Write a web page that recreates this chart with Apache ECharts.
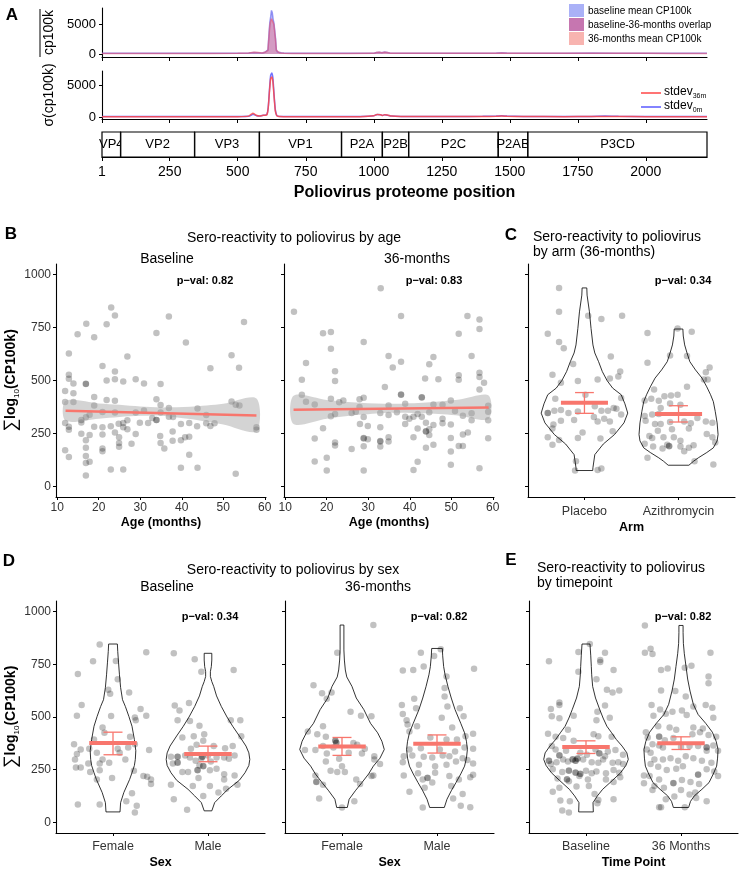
<!DOCTYPE html>
<html>
<head>
<meta charset="utf-8">
<script src="https://cdn.jsdelivr.net/npm/echarts@6/dist/echarts.min.js"></script>
<style>
  html, body { margin: 0; background: #fff; }
  #chart { width: 740px; height: 870px; }
</style>
</head>
<body>
<div id="chart"></div>
<script>
const FONT = '"Liberation Sans", Arial, sans-serif';
const FONT_A = '"Liberation Sans Narrow", "Liberation Sans", Arial, sans-serif';
const SALMON = '#F8766D';

// ---- panel A : proteome profile ----
const ticksA = [1, 250, 500, 750, 1000, 1250, 1500, 1750, 2000];
const meanPos = [1,100,200,300,400,500,540,560,575,590,600,606,611,615,618,621,624,627,630,633,636,639,642,646,652,660,670,700,800,900,1000,1010,1020,1030,1040,1050,1060,1100,1200,1300,1400,1450,1470,1490,1600,1700,1800,1900,2000,2100,2225];
const meanBase = [120,120,120,120,120,130,160,250,220,170,300,400,700,3500,5300,6200,7300,6900,5800,5200,4900,2600,700,350,260,200,150,120,120,120,130,260,300,220,320,260,160,130,130,140,130,160,210,160,130,140,160,140,130,120,120];
const meanM36 = [100,100,100,100,100,110,180,300,240,160,280,350,600,3000,4800,5500,5900,5800,5300,4900,4600,2300,600,300,220,170,120,100,100,100,110,240,280,200,300,240,140,110,110,120,110,140,190,140,110,120,140,120,110,100,100];
const sdPos = [1,100,200,300,400,500,540,550,556,562,570,580,590,600,607,612,617,621,625,629,633,638,643,648,655,670,700,800,900,950,1000,1012,1025,1032,1040,1050,1065,1100,1200,1300,1400,1450,1470,1490,1550,1700,1800,1850,1900,2000,2100,2225];
const sd0m = [80,80,80,80,80,90,120,300,450,350,200,150,250,300,400,1500,4500,6500,6900,6200,3800,1200,300,150,100,90,80,80,80,90,200,400,350,250,350,300,150,100,100,100,120,150,200,150,100,90,110,150,120,90,80,80];
const sd36m = [60,60,60,60,60,70,150,450,600,450,250,170,250,300,350,1400,4200,6000,6250,5600,3500,1000,250,120,80,70,60,60,60,70,200,420,380,250,350,320,150,80,80,80,90,120,150,120,80,70,80,100,90,70,60,60];
const geneNames = ['VP4','VP2','VP3','VP1','P2A','P2B','P2C','P2AB','P3CD'];
const geneStart = [1,70,342,580,882,1032,1129,1458,1567];
const geneEnd = [69,341,579,881,1031,1128,1457,1566,2225];

// ---- panels B-E : sero-reactivity ----
const scoreTicks = [0, 250, 500, 750, 1000];
const ageTicks = [10, 20, 30, 40, 50, 60];

const pointsB1 = [[23,845],[23.9,807],[17,768],[21.9,766],[36.9,802],[14.9,718],[18.9,704],[33.9,724],[41,679],[55,776],
[12.8,627],[26.9,613],[52,619],[20.9,569],[23.9,542],[46.9,558],[53.8,560],[12.8,527],[12.8,508],[21.9,500],
[23.9,506],[25.9,495],[28.9,506],[30.9,486],[34.9,483],[13.9,486],[11.9,451],[16.9,484],[16.9,485],[13.9,440],
[18.9,422],[11.9,398],[13.9,398],[18.9,382],[21.9,408],[23.9,404],[33.9,412],[34.9,384],[36.9,370],[43.8,368],
[52,401],[53,385],[53.9,382],[30.9,358],[20.9,351],[23.9,349],[28.9,349],[34.9,349],[17.8,338],[16.9,326],
[15.8,313],[15.8,302],[32.9,323],[33.9,313],[33.9,314],[36.9,329],[37.9,328],[45.9,337],[11.9,299],[26.9,312],
[24.8,296],[25.9,299],[29.9,301],[31.9,299],[39.8,295],[41.8,299],[43.7,284],[45.9,298],[46.9,285],[47.9,298],
[12.8,282],[12.8,268],[18.9,282],[20.9,279],[22.9,284],[25.9,279],[26.9,270],[58,279],[58,268],[15.8,249],
[17.8,243],[20.9,245],[23.9,254],[24.9,232],[28.9,248],[34.8,238],[37.8,259],[37.8,215],[39.8,218],[40.8,232],
[41.8,235],[16.9,218],[16.9,182],[20.9,179],[20.9,166],[24.9,205],[24.9,187],[27.9,201],[34.9,205],[35.8,179],
[11.9,171],[12.8,139],[16.9,143],[16.9,111],[17.8,117],[41.8,149],[22.9,80],[25.9,80],[39.8,88],[43.8,88],
[16.9,52],[53,60]];
const pointsB2 = [[12.1,824],[33,936],[37.9,804],[53.9,804],[56.8,788],[56.8,743],[19.1,723],[21,729],[51.8,721],[28.9,682],
[21,650],[15,583],[34.9,616],[35.9,561],[37.9,588],[45.7,611],[44.7,577],[54.9,616],[22,544],[22,498],
[14,503],[51.8,525],[51.8,503],[56.8,536],[56.8,517],[57.9,489],[43.7,509],[46.9,506],[14,433],[15,400],
[17.1,387],[34,469],[37.9,433],[37.9,434],[42.9,420],[42.9,421],[56.8,458],[21,414],[23,397],[24,406],
[27.9,412],[28.9,418],[34.9,382],[38.9,390],[45.7,387],[47.9,386],[49.9,406],[27.9,375],[26,346],[22,342],
[21,331],[27,353],[28.9,328],[32.9,346],[34.9,337],[36.9,350],[38.9,329],[41.9,342],[42.9,329],[44.7,350],
[50.9,356],[52.8,334],[54.9,345],[58.9,381],[58.9,353],[39.9,320],[40.9,329],[47.9,320],[54.9,312],[58.9,312],
[28,295],[38.9,295],[45.7,290],[47.9,298],[49.9,292],[29.9,285],[41.9,273],[43.9,301],[19.1,274],[32.9,279],
[44.7,270],[40.9,232],[43.9,259],[43.9,260],[44.7,243],[49.9,229],[52.8,245],[54,254],[17.1,226],[28.9,226],
[28.9,228],[29.9,223],[32.9,212],[32.9,214],[34.9,232],[34.9,212],[22,207],[22,193],[26,177],[28.9,190],
[32.9,188],[43.9,182],[45.7,197],[51.8,191],[52.8,191],[58.9,227],[49.9,165],[17.1,118],[20,135],[20,75],
[28.9,75],[41.9,116],[40.9,77],[49.9,102],[56.8,86]];

// linear fits and 95% bands
const fitB1Age = [12, 58];
const fitB1 = [357, 335];
const bandB1Age = [12, 20, 25, 30, 35, 42, 50, 58];
const bandB1Lo = [310, 320, 328, 333, 334, 318, 292, 260];
const bandB1Hi = [404, 392, 385, 377, 373, 376, 390, 415];
const fitB2Age = [12, 59];
const fitB2 = [362, 373];
const bandB2Age = [12, 20, 28, 36, 44, 52, 59];
const bandB2Lo = [295, 320, 338, 348, 345, 334, 318];
const bandB2Hi = [428, 408, 395, 390, 396, 410, 429];

const catsC = ['Placebo', 'Azithromycin'];
const pointsC = [[0.73,937],[0.73,824],[0.61,721],[0.73,682],[0.78,652],[1.04,806],[1.18,790],[1.40,806],[1.28,613],[1.38,542],
[0.88,578],[0.66,527],[0.75,489],[0.93,498],[1.14,505],[1.27,509],[1.36,519],[0.69,414],[1.01,433],[1.39,417],
[0.61,346],[0.61,347],[0.68,357],[0.75,361],[0.83,346],[0.93,354],[1.10,328],[1.18,357],[1.25,357],[1.31,370],[1.34,367],
[1.39,339],[1.11,379],[0.67,292],[0.66,273],[0.75,310],[0.89,313],[1.14,307],[1.21,320],[1.27,307],[1.30,260],
[0.61,232],[0.66,197],[0.73,219],[0.98,254],[0.93,229],[1.17,226],[0.91,119],[0.90,75],[1.14,77],[1.18,85],
[1.67,724],[1.99,746],[2.14,730],[1.67,584],[1.91,618],[2.09,616],[2.33,561],[2.29,539],[2.27,505],[2.31,505],
[1.74,458],[2.09,470],[1.64,406],[1.71,414],[1.79,404],[1.85,426],[1.92,429],[1.99,433],[1.91,392],[2.02,386],
[1.81,370],[1.79,342],[1.72,339],[1.64,332],[1.65,310],[1.75,295],[1.81,295],[1.91,304],[2.06,307],[2.13,298],
[2.20,323],[2.29,307],[2.36,301],[2.11,273],[1.93,270],[1.78,263],[1.69,238],[1.72,229],[1.84,232],[1.95,232],
[2.02,216],[2.30,248],[2.36,232],[2.39,207],[1.64,201],[1.73,188],[1.88,197],[1.90,190],[1.90,191],[2.02,188],[2.11,182],
[2.16,194],[1.83,179],[2.06,166],[1.67,135],[2.17,119],[2.37,103]];
const violinPlacebo = [[75,0.088],[88,0.09],[150,0.11],[200,0.2],[245,0.32],[300,0.42],[346,0.46],[390,0.43],[433,0.39],[464,0.3],[500,0.24],[542,0.19],[589,0.15],[630,0.11],[668,0.09],[746,0.07],[824,0.053],[903,0.028],[937,0.025]];
const violinAzi = [[100,0.11],[119,0.16],[135,0.21],[160,0.3],[182,0.37],[215,0.41],[245,0.42],[300,0.41],[354,0.39],[400,0.37],[433,0.34],[470,0.3],[511,0.25],[550,0.18],[589,0.12],[630,0.09],[668,0.065],[710,0.05],[743,0.046]];
const meanC = [395, 342];
const loC = [345, 304];
const hiC = [443, 381];

const catsSex = ['Female', 'Male'];
const pointsD1 = [[0.86,844],[0.79,764],[1.03,766],[1.35,807],[0.63,704],[1.05,679],[0.95,629],[0.97,610],[1.17,616],[0.67,557],
[1.29,538],[0.62,506],[0.98,505],[1.23,498],[1.35,506],[1.24,484],[0.89,450],[0.91,425],[0.80,393],[1.18,406],
[0.59,371],[0.66,346],[0.62,324],[0.75,349],[0.83,330],[1.05,349],[1.07,330],[1.16,355],[1.23,371],[1.38,343],
[0.60,299],[0.61,261],[0.66,261],[0.74,280],[0.86,280],[0.96,283],[0.89,299],[1.13,299],[0.76,239],[0.86,248],
[1.22,245],[0.83,204],[0.99,211],[1.32,220],[1.36,217],[1.40,204],[1.40,182],[1.20,138],[0.63,85],[0.86,85],
[1.14,101],[1.25,79],[1.23,47],
[1.64,802],[1.86,774],[1.93,715],[2.27,723],[1.65,555],[1.70,531],[1.80,566],[1.68,484],[1.81,481],[1.91,459],
[2.24,484],[2.34,484],[2.35,409],[1.73,403],[1.85,409],[1.96,418],[1.95,387],[1.88,368],[2.06,362],[1.82,349],
[2.18,352],[2.26,362],[1.61,311],[1.68,311],[1.68,312],[1.68,283],[1.68,284],[1.76,318],[1.81,308],[1.87,292],[1.93,305],
[1.94,311],[1.94,312],[2.00,318],[2.03,289],[2.09,308],[2.17,308],[2.22,302],[2.28,318],[1.63,280],[1.73,239],[1.79,239],
[1.89,248],[1.89,249],[1.91,270],[1.95,267],[1.95,268],[2.02,248],[2.09,255],[2.17,229],[2.28,223],[1.90,211],[2.17,204],
[1.61,179],[1.84,173],[2.02,173],[2.31,179],[2.19,160],[2.11,142],[1.64,110],[1.95,126],[1.78,60]];
const violinD1F = [[50,0.074],[94,0.08],[142,0.114],[204,0.175],[236,0.2],[270,0.225],[299,0.235],[340,0.24],[393,0.225],[456,0.2],[503,0.167],[550,0.13],[582,0.1],[640,0.08],[700,0.068],[760,0.058],[810,0.05],[846,0.046]];
const violinD1M = [[55,0.04],[94,0.07],[126,0.14],[157,0.21],[200,0.33],[236,0.39],[270,0.43],[299,0.44],[330,0.43],[362,0.4],[410,0.33],[456,0.26],[500,0.2],[550,0.14],[600,0.09],[645,0.06],[668,0.04],[692,0.025],[715,0.025],[739,0.035],[770,0.04],[802,0.04]];
const meanD1 = [377, 325];
const loD1 = [321, 288];
const hiD1 = [428, 362];

const pointsD2 = [[1.33,936],[0.95,805],[0.70,651],[0.79,613],[0.89,616],[0.84,586],[1.09,525],[1.20,506],[1.31,503],[0.80,456],
[0.64,431],[0.74,418],[0.93,387],[0.93,388],[0.94,377],[0.94,378],[0.83,406],[1.12,377],[1.16,368],[1.24,349],[0.61,343],
[0.72,343],[0.80,362],[0.84,327],[0.91,355],[1.07,330],[1.21,327],[0.83,289],[0.97,302],[1.34,299],[1.34,314],
[1.40,277],[1.00,267],[0.88,245],[0.95,239],[1.03,239],[0.72,223],[1.31,220],[1.33,223],[1.15,204],[0.73,192],[0.73,193],
[0.80,179],[1.19,182],[0.76,113],[1.13,101],[1.00,71],
[1.64,720],[1.75,723],[1.86,739],[1.83,805],[1.97,789],[2.04,821],[2.39,729],[2.10,692],[1.76,586],[1.63,557],
[1.78,541],[2.08,597],[2.08,638],[2.11,550],[2.24,541],[1.64,514],[1.68,484],[2.05,497],[2.28,503],[1.69,465],
[1.71,431],[1.79,456],[2.16,450],[2.30,409],[2.38,421],[1.93,403],[2.10,393],[2.21,393],[1.71,346],[1.83,352],
[2.03,346],[2.29,355],[2.38,349],[1.65,314],[1.74,318],[1.86,311],[1.95,308],[2.06,318],[2.13,314],[2.19,336],
[2.27,305],[1.64,286],[1.81,274],[1.98,267],[2.10,274],[2.20,289],[2.32,296],[2.38,280],[1.65,223],[1.80,233],
[1.85,204],[1.90,211],[1.90,212],[1.98,236],[2.13,220],[2.23,204],[2.35,214],[2.38,226],[1.71,145],[1.87,164],
[1.95,189],[2.15,173],[2.27,135],[2.17,113],[1.85,71],[2.25,79],[2.35,72]];
const violinD2F = [[71,0.056],[110,0.075],[150,0.14],[189,0.21],[230,0.28],[267,0.33],[305,0.4],[346,0.445],[385,0.42],[425,0.375],[470,0.3],[535,0.23],[590,0.15],[645,0.105],[690,0.05],[723,0.035],[770,0.025],[818,0.02],[936,0.02]];
const violinD2M = [[71,0.077],[110,0.105],[150,0.15],[189,0.2],[230,0.25],[267,0.29],[305,0.31],[346,0.32],[385,0.31],[425,0.29],[470,0.25],[535,0.19],[590,0.15],[645,0.115],[700,0.085],[739,0.07],[790,0.06],[825,0.056]];
const meanD2 = [360, 373];
const loD2 = [318, 329];
const hiD2 = [403, 415];

const catsTime = ['Baseline', '36 Months'];
const pointsE = [[0.61,764],[0.92,808],[1.04,846],[1.20,805],[1.15,770],[1.15,761],[1.29,723],[0.92,715],[1.11,679],[1.35,626],
[1.28,616],[1.22,629],[0.72,569],[0.72,557],[0.63,538],[1.20,555],[0.87,506],[1.12,525],[1.25,497],[0.64,503],
[0.72,494],[1.11,484],[0.81,440],[0.60,421],[0.68,406],[0.76,400],[1.08,418],[1.13,409],[1.27,406],[0.87,387],
[0.64,362],[0.68,346],[0.79,340],[0.72,318],[0.72,319],[0.94,330],[1.01,321],[1.10,346],[1.14,327],[1.14,328],[1.20,314],
[1.23,336],[1.31,343],[1.39,321],[0.61,292],[0.61,293],[0.63,277],[0.69,286],[0.76,299],[0.81,289],[0.86,299],[0.86,300],
[0.89,292],[0.89,293],[0.91,302],[0.91,303],[0.97,299],[1.06,286],[1.13,283],[1.18,299],[1.28,283],[1.34,286],[1.39,277],
[0.65,252],[0.75,239],[0.82,245],[0.82,246],[0.89,236],[0.89,237],[0.94,230],[0.94,231],[1.00,245],[1.06,233],[1.11,242],
[1.21,233],[1.29,249],[1.35,236],[0.70,208],[0.80,204],[0.80,205],[0.82,195],[0.93,220],[1.02,204],[1.21,204],[1.36,214],
[0.72,164],[0.90,170],[1.03,173],[1.29,192],[0.65,145],[1.09,135],[1.13,107],[1.29,110],[0.73,104],[0.83,101],
[1.12,91],[0.75,57],[0.82,47],
[1.62,934],[1.62,805],[1.68,824],[1.70,799],[2.31,805],[1.79,723],[1.86,730],[2.04,733],[2.11,743],[2.29,692],
[2.29,660],[1.79,626],[1.94,623],[2.05,597],[1.69,557],[2.26,557],[2.33,544],[1.78,535],[1.84,516],[1.91,525],
[2.01,531],[2.13,550],[1.71,506],[2.06,509],[2.34,497],[1.76,456],[1.88,450],[1.95,440],[2.13,450],[2.23,446],
[1.63,428],[1.65,403],[2.20,428],[2.29,415],[2.37,406],[1.77,406],[1.77,407],[1.83,390],[1.92,400],[2.12,418],
[1.70,371],[1.77,365],[2.27,355],[2.27,356],[2.34,365],[2.39,340],[1.64,346],[1.68,330],[1.81,355],[2.00,358],
[2.09,362],[2.18,362],[2.27,340],[1.72,299],[1.81,299],[1.89,305],[1.97,292],[2.05,314],[2.13,305],[2.22,292],
[2.32,283],[1.68,277],[1.76,264],[1.85,249],[1.95,255],[2.02,267],[2.18,226],[2.18,227],[2.27,252],[2.35,242],
[2.39,220],[1.61,223],[1.67,220],[1.77,204],[1.92,186],[1.92,187],[2.01,201],[2.10,192],[2.19,182],[1.61,186],
[1.72,173],[1.82,164],[2.00,154],[2.09,132],[2.16,116],[2.27,101],[1.77,72],[1.79,72],[1.84,110],[2.04,72],
[2.15,142],[1.93,123],[1.70,154]];
const violinEB = [[50,0.077],[94,0.074],[126,0.12],[157,0.175],[200,0.28],[236,0.365],[270,0.42],[299,0.445],[330,0.43],[362,0.38],[393,0.32],[425,0.27],[456,0.22],[495,0.18],[535,0.145],[590,0.1],[645,0.07],[700,0.06],[739,0.056],[790,0.05],[846,0.042]];
const violinE36 = [[71,0.08],[100,0.1],[126,0.14],[157,0.22],[189,0.295],[230,0.34],[267,0.375],[305,0.385],[346,0.39],[385,0.37],[428,0.33],[470,0.26],[512,0.18],[560,0.13],[623,0.095],[680,0.07],[739,0.053],[800,0.035],[849,0.025],[900,0.022],[934,0.022]];
const meanE = [358, 376];
const loE = [327, 346];
const hiE = [387, 406];

const zip = (xs, ys) => xs.map((x, i) => [x, ys[i]]);
const plain = v => String(v);

const grids = [
  { left: 102, top: 8, width: 605, height: 49 },    // A mean
  { left: 102, top: 71, width: 605, height: 48 },   // A stdev
  { left: 102, top: 132, width: 605, height: 25 },  // A genes
  { left: 56, top: 264, width: 210, height: 233 },  // B baseline
  { left: 284, top: 264, width: 210, height: 233 }, // B 36m
  { left: 528, top: 264, width: 207, height: 233 }, // C
  { left: 56, top: 601, width: 209, height: 233 },  // D baseline
  { left: 285, top: 601, width: 209, height: 233 }, // D 36m
  { left: 529, top: 601, width: 209, height: 233 }  // E
];

const blackLine = { onZero: false, lineStyle: { color: '#000', width: 1.1 } };

function xAxisA(i, labels) {
  return {
    type: 'value', gridIndex: i, min: 1, max: 2225, splitLine: { show: false },
    axisLine: blackLine,
    axisTick: { customValues: ticksA, length: 4, lineStyle: { color: '#000' } },
    axisLabel: { show: labels, customValues: ticksA, formatter: plain, fontSize: 14, color: '#000', margin: 8, fontFamily: FONT_A },
    name: labels ? 'Poliovirus proteome position' : '', nameLocation: 'middle', nameGap: 28,
    nameTextStyle: { fontWeight: 'bold', fontSize: 16, color: '#000', fontFamily: FONT }
  };
}
function yAxisA(i, min, max, name) {
  return {
    type: 'value', gridIndex: i, min: min, max: max, splitLine: { show: false },
    axisLine: blackLine,
    axisTick: { customValues: [0, 5000], length: 3, lineStyle: { color: '#000' } },
    axisLabel: { customValues: [0, 5000], formatter: plain, fontSize: 13, color: '#000', margin: 6, fontFamily: FONT_A },
    name: name, nameLocation: 'middle', nameRotate: 90, nameGap: 36,
    nameTextStyle: { fontSize: 14, color: '#000', fontFamily: FONT_A }
  };
}
const yName = '{s|∑}{b|log}{sub|10}{b|(CP100k)}';
const yNameStyle = {
  color: '#000',
  rich: {
    s: { fontSize: 18, fontFamily: FONT, color: '#000' },
    b: { fontSize: 14, fontWeight: 'bold', fontFamily: FONT, color: '#000' },
    sub: { fontSize: 8, fontFamily: FONT, color: '#000', verticalAlign: 'bottom', padding: [6, 0, 0, 0] }
  }
};
function yScore(i, labels) {
  return {
    type: 'value', gridIndex: i, min: -50, max: 1050, splitLine: { show: false },
    axisLine: blackLine,
    axisTick: { customValues: scoreTicks, length: 3, lineStyle: { color: '#000' } },
    axisLabel: { show: labels, customValues: scoreTicks, formatter: plain, fontSize: 12, color: '#333', margin: 5, fontFamily: FONT },
    name: labels ? yName : '', nameLocation: 'middle', nameRotate: 90, nameGap: 27,
    nameTextStyle: yNameStyle
  };
}
function xAge(i) {
  return {
    type: 'value', gridIndex: i, min: 9.7, max: 60.3, splitLine: { show: false },
    axisLine: blackLine,
    axisTick: { customValues: ageTicks, length: 3, lineStyle: { color: '#000' } },
    axisLabel: { customValues: ageTicks, formatter: plain, fontSize: 12, color: '#333', margin: 5, fontFamily: FONT },
    name: 'Age (months)', nameLocation: 'middle', nameGap: 19,
    nameTextStyle: { fontWeight: 'bold', fontSize: 12.5, color: '#000', fontFamily: FONT }
  };
}
function xCat(i, cats, title, margin, gap) {
  return {
    type: 'value', gridIndex: i, min: 0.4, max: 2.6, splitLine: { show: false },
    axisLine: blackLine,
    axisTick: { customValues: [1, 2], length: 3, lineStyle: { color: '#000' } },
    axisLabel: { customValues: [1, 2], formatter: v => cats[Math.round(v) - 1], fontSize: 12.5, color: '#333', margin: margin, fontFamily: FONT },
    name: title, nameLocation: 'middle', nameGap: gap,
    nameTextStyle: { fontWeight: 'bold', fontSize: 12.5, color: '#000', fontFamily: FONT }
  };
}

function scatter(i, pts) {
  return {
    type: 'scatter', xAxisIndex: i, yAxisIndex: i, data: pts, symbolSize: 6.5, z: 2, silent: true,
    itemStyle: { color: 'rgba(0,0,0,0.3)' }
  };
}
function violin(i, center, pairs) {
  return {
    type: 'custom', xAxisIndex: i, yAxisIndex: i, z: 3, silent: true,
    data: [[center, pairs[0][0]]],
    renderItem: (params, api) => {
      const right = pairs.map(p => api.coord([center + p[1], p[0]]));
      const left = pairs.slice().reverse().map(p => api.coord([center - p[1], p[0]]));
      return {
        type: 'polygon', shape: { points: right.concat(left) },
        style: { fill: 'none', stroke: '#000', lineWidth: 0.8 }
      };
    }
  };
}
function meanBars(i, means, lo, hi) {
  return {
    type: 'custom', xAxisIndex: i, yAxisIndex: i, z: 5, silent: true,
    data: means.map((m, k) => [k + 1, m, lo[k], hi[k]]),
    renderItem: (params, api) => {
      const c = api.value(0), m = api.value(1), l = api.value(2), h = api.value(3);
      const seg = (a, b, w) => ({
        type: 'line', shape: { x1: a[0], y1: a[1], x2: b[0], y2: b[1] },
        style: { stroke: SALMON, lineWidth: w }
      });
      return {
        type: 'group', children: [
          seg(api.coord([c - 0.1, l]), api.coord([c + 0.1, l]), 1.3),
          seg(api.coord([c - 0.1, h]), api.coord([c + 0.1, h]), 1.3),
          seg(api.coord([c, l]), api.coord([c, h]), 1.3),
          seg(api.coord([c - 0.25, m]), api.coord([c + 0.25, m]), 4)
        ]
      };
    }
  };
}
function band(i, ages, lo, hi) {
  return {
    type: 'custom', xAxisIndex: i, yAxisIndex: i, z: 3, silent: true,
    data: [[ages[0], lo[0]]],
    renderItem: (params, api) => {
      const top = ages.map((a, k) => api.coord([a, hi[k]]));
      const bot = ages.map((a, k) => api.coord([a, lo[k]])).reverse();
      return { type: 'polygon', shape: { points: top.concat(bot), smooth: 0.3 }, style: { fill: 'rgba(160,160,160,0.45)' } };
    }
  };
}
function fitLine(i, ages, vals) {
  return {
    type: 'line', xAxisIndex: i, yAxisIndex: i, data: zip(ages, vals), showSymbol: false, z: 4, silent: true,
    lineStyle: { color: SALMON, width: 2.5 }
  };
}

function txt(x, y, text, size, extra) {
  return {
    type: 'text', x: x, y: y, silent: true,
    style: Object.assign({
      text: text, fontSize: size, fontFamily: FONT, fill: '#000',
      align: 'center', verticalAlign: 'middle', textAlign: 'center', textVerticalAlign: 'middle'
    }, extra || {})
  };
}
const bold = { fontWeight: 'bold' };
const leftAl = { align: 'left', textAlign: 'left' };
const subRich = { s: { fontSize: 7, fontFamily: FONT_A, verticalAlign: 'bottom', padding: [8, 0, 0, 0] } };

const graphics = [
  txt(12, 15, 'A', 17, bold),
  txt(11, 234, 'B', 17, bold),
  txt(511, 235, 'C', 17, bold),
  txt(9, 561, 'D', 17, bold),
  txt(511, 560, 'E', 17, bold),
  // overline of the mean axis title
  { type: 'line', silent: true, shape: { x1: 40, y1: 9, x2: 40, y2: 57 }, style: { stroke: '#000', lineWidth: 1 } },
  // legend of the mean profile
  { type: 'rect', silent: true, shape: { x: 569, y: 4, width: 15, height: 13 }, style: { fill: '#aab1f7' } },
  { type: 'rect', silent: true, shape: { x: 569, y: 18, width: 15, height: 13 }, style: { fill: '#c676b0' } },
  { type: 'rect', silent: true, shape: { x: 569, y: 32, width: 15, height: 13 }, style: { fill: '#f8b4b0' } },
  txt(588, 11, 'baseline mean CP100k', 10, Object.assign({ fontFamily: FONT_A }, leftAl)),
  txt(588, 25, 'baseline-36-months overlap', 10, Object.assign({ fontFamily: FONT_A }, leftAl)),
  txt(588, 39, '36-months mean CP100k', 10, Object.assign({ fontFamily: FONT_A }, leftAl)),
  // legend of the stdev profile
  { type: 'line', silent: true, shape: { x1: 641, y1: 93, x2: 661, y2: 93 }, style: { stroke: '#ff4646', lineWidth: 1.5 } },
  { type: 'line', silent: true, shape: { x1: 641, y1: 107, x2: 661, y2: 107 }, style: { stroke: '#5a5aff', lineWidth: 1.5 } },
  txt(664, 92, 'stdev{s|36m}', 12, Object.assign({ fontFamily: FONT_A, rich: subRich }, leftAl)),
  txt(664, 106, 'stdev{s|0m}', 12, Object.assign({ fontFamily: FONT_A, rich: subRich }, leftAl)),
  // B
  txt(294, 238, 'Sero-reactivity to poliovirus by age', 14),
  txt(167, 259, 'Baseline', 14),
  txt(417, 259, '36-months', 14),
  txt(205, 281, 'p\u2212val: 0.82', 11, bold),
  txt(434, 281, 'p\u2212val: 0.83', 11, bold),
  // C
  txt(533, 237, 'Sero-reactivity to poliovirus', 14, leftAl),
  txt(533, 252, 'by arm (36-months)', 14, leftAl),
  txt(683, 281, 'p\u2212val: 0.34', 11, bold),
  // D
  txt(293, 570, 'Sero-reactivity to poliovirus by sex', 14),
  txt(167, 587, 'Baseline', 14),
  txt(378, 587, '36-months', 14),
  txt(210, 617, 'p\u2212val: 0.34', 11, bold),
  txt(439, 617, 'p\u2212val: 0.82', 11, bold),
  // E
  txt(537, 568, 'Sero-reactivity to poliovirus', 14, leftAl),
  txt(537, 583, 'by timepoint', 14, leftAl),
  txt(683, 617, 'p\u2212val: 0.82', 11, bold)
];

const option = {
  animation: false,
  backgroundColor: '#fff',
  textStyle: { fontFamily: FONT },
  grid: grids,
  xAxis: [
    xAxisA(0, false), xAxisA(1, false), xAxisA(2, true),
    xAge(3), xAge(4),
    xCat(5, catsC, 'Arm', 8, 24),
    xCat(6, catsSex, 'Sex', 7, 23), xCat(7, catsSex, 'Sex', 7, 23),
    xCat(8, catsTime, 'Time Point', 7, 23)
  ],
  yAxis: [
    yAxisA(0, -500, 7700, 'cp100k'),
    yAxisA(1, -300, 7200, '\u03c3(cp100k)'),
    { type: 'value', gridIndex: 2, min: 0, max: 1, show: false },
    yScore(3, true), yScore(4, false), yScore(5, false),
    yScore(6, true), yScore(7, false), yScore(8, false)
  ],
  graphic: { elements: graphics },
  series: [
    {
      type: 'line', xAxisIndex: 0, yAxisIndex: 0, data: zip(meanPos, meanBase), showSymbol: false, silent: true,
      lineStyle: { color: 'rgba(110,110,240,0.7)', width: 1.5 }, areaStyle: { color: 'rgba(110,110,240,0.55)' }
    },
    {
      type: 'line', xAxisIndex: 0, yAxisIndex: 0, data: zip(meanPos, meanM36), showSymbol: false, silent: true,
      lineStyle: { color: 'rgba(235,85,110,0.6)', width: 1.5 }, areaStyle: { color: 'rgba(235,85,110,0.55)' }
    },
    {
      type: 'line', xAxisIndex: 1, yAxisIndex: 1, data: zip(sdPos, sd0m), showSymbol: false, silent: true, smooth: 0.2,
      lineStyle: { color: 'rgba(90,90,255,0.85)', width: 1.5 }
    },
    {
      type: 'line', xAxisIndex: 1, yAxisIndex: 1, data: zip(sdPos, sd36m), showSymbol: false, silent: true, smooth: 0.2,
      lineStyle: { color: 'rgba(255,70,70,0.85)', width: 1.5 }
    },
    {
      type: 'custom', xAxisIndex: 2, yAxisIndex: 2, silent: true,
      data: geneStart.map((s, k) => [s, geneEnd[k]]),
      encode: { x: [0, 1] },
      renderItem: (params, api) => {
        const p0 = api.coord([api.value(0), 1]);
        const p1 = api.coord([api.value(1), 0]);
        return {
          type: 'group', children: [
            { type: 'rect', shape: { x: p0[0], y: p0[1], width: p1[0] - p0[0], height: p1[1] - p0[1] },
              style: { fill: '#fff', stroke: '#000', lineWidth: 1.2 } },
            { type: 'text', style: {
                text: geneNames[params.dataIndex], x: (p0[0] + p1[0]) / 2, y: (p0[1] + p1[1]) / 2,
                align: 'center', verticalAlign: 'middle', textAlign: 'center', textVerticalAlign: 'middle',
                fontSize: 13, fontFamily: FONT_A, fill: '#000' } }
          ]
        };
      }
    },
    // B
    scatter(3, pointsB1), band(3, bandB1Age, bandB1Lo, bandB1Hi), fitLine(3, fitB1Age, fitB1),
    scatter(4, pointsB2), band(4, bandB2Age, bandB2Lo, bandB2Hi), fitLine(4, fitB2Age, fitB2),
    // C
    scatter(5, pointsC), violin(5, 1, violinPlacebo), violin(5, 2, violinAzi), meanBars(5, meanC, loC, hiC),
    // D
    scatter(6, pointsD1), violin(6, 1, violinD1F), violin(6, 2, violinD1M), meanBars(6, meanD1, loD1, hiD1),
    scatter(7, pointsD2), violin(7, 1, violinD2F), violin(7, 2, violinD2M), meanBars(7, meanD2, loD2, hiD2),
    // E
    scatter(8, pointsE), violin(8, 1, violinEB), violin(8, 2, violinE36), meanBars(8, meanE, loE, hiE)
  ]
};

const chart = echarts.init(document.getElementById('chart'), null, { renderer: 'canvas' });
chart.setOption(option);
</script>
</body>
</html>
